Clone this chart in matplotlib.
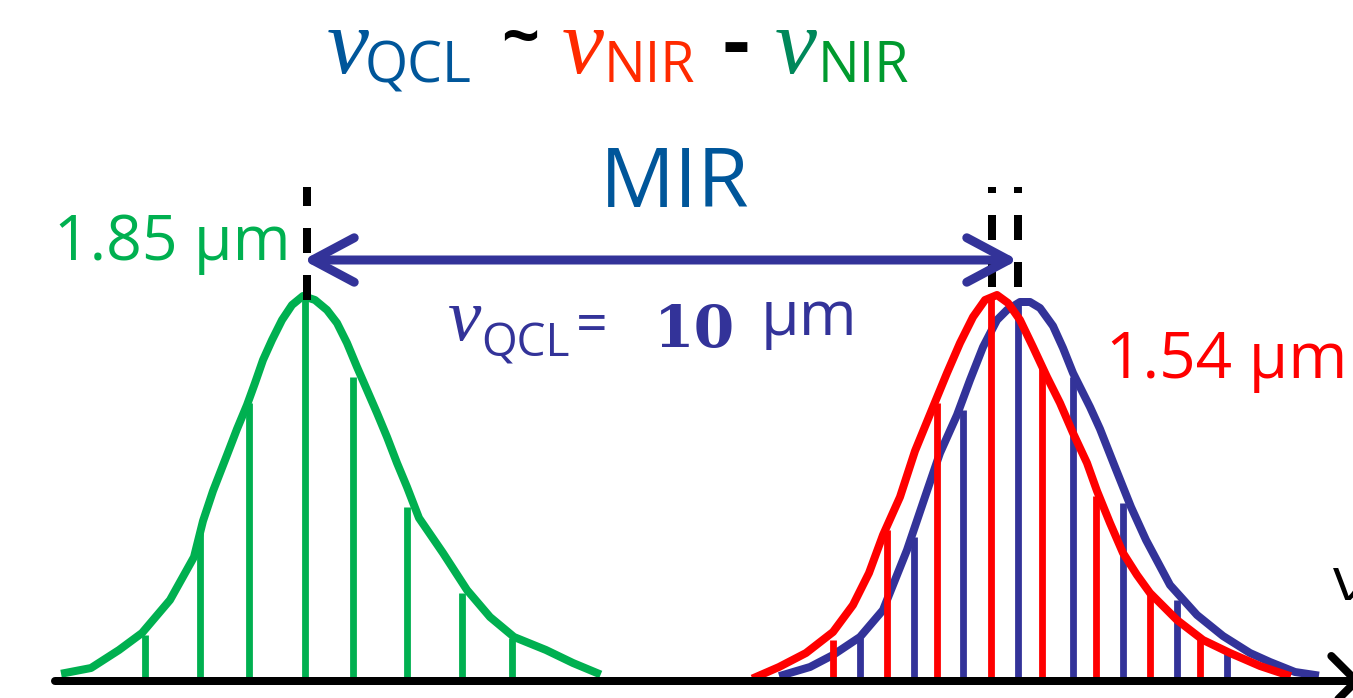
import matplotlib
matplotlib.use("Agg")
import matplotlib.pyplot as plt
from matplotlib.patches import FancyArrowPatch

# frekans ekseni (keyfi birim) ve genlik (eksenin üstündeki yükseklik)
green_comb_x = [145, 200, 249, 305, 353, 407, 462, 512]
green_comb_h = [46, 151, 278, 384, 304, 174, 88, 43]
green_env_x = [65, 91, 119, 142, 170, 194, 203, 213, 227, 237, 247, 255, 263, 272, 282,
               292, 303, 315, 327, 337, 347, 357, 367, 377, 387, 397, 407, 419, 443,
               467, 490, 514, 546, 573, 597]
green_env_h = [8, 13, 31, 48, 81, 124, 160, 190, 226, 252, 276, 298, 321, 341, 361,
               376, 385, 381, 371, 358, 338, 314, 291, 268, 244, 218, 194, 163, 128,
               91, 64, 44, 31, 18, 8]

red_comb_x = [833, 887, 937, 991, 1042, 1096, 1150, 1200]
red_comb_h = [41, 151, 278, 386, 314, 185, 88, 44]
red_env_x = [756, 779, 806, 833, 853, 869, 883, 900, 915, 933, 947, 960, 973, 985, 997,
             1008, 1020, 1033, 1047, 1060, 1073, 1087, 1097, 1110, 1123, 1137, 1150,
             1177, 1203, 1230, 1260, 1287]
red_env_h = [4, 14, 28, 49, 76, 108, 146, 184, 230, 274, 308, 338, 364, 381, 386,
             378, 361, 334, 304, 278, 248, 218, 190, 158, 128, 106, 88,
             61, 41, 28, 15, 6]

blue_comb_x = [860, 914, 963, 1018, 1073, 1123, 1177, 1227]
blue_comb_h = [43, 144, 271, 378, 304, 178, 81, 31]
blue_env_x = [783, 810, 833, 860, 883, 907, 927, 940, 957, 970, 983, 997, 1007, 1020,
              1030, 1040, 1053, 1063, 1073, 1090, 1100, 1115, 1131, 1146, 1170, 1197,
              1223, 1250, 1270, 1295, 1315]
blue_env_h = [6, 14, 26, 44, 71, 131, 190, 228, 266, 301, 334, 361, 371, 379,
              379, 373, 355, 333, 308, 274, 252, 214, 174, 141, 96, 66,
              45, 28, 19, 9, 6]

# merkez frekanslar (kesikli çizgiler) ve MIR oku
center_green = 307
center_red = 992
center_blue = 1018
dash_bottom = [381, 394, 394]
dash_top = 494
arrow_level = 421

label_green = "1.85 μm"
label_red = "1.54 μm"
label_mir = "MIR"

GREEN = "#00B050"
RED = "#FF0000"
BLUE = "#333399"
DARKBLUE = "#00569A"
SANS = "Open Sans"
SERIF = "Liberation Serif"

PX = 72 / 100  # piksel -> punkt

fig = plt.figure(figsize=(13.53, 6.98), dpi=100)
ax = fig.add_axes([0, 0, 1, 1])
ax.set_xlim(0, 1353)
ax.set_ylim(-17, 681)
ax.axis("off")

lw_line = 6.8 * PX
lw_env = 8 * PX

# yeşil tarak
ax.plot(green_env_x, green_env_h, color=GREEN, lw=lw_env, solid_joinstyle="round")
ax.vlines(green_comb_x, 0, green_comb_h, colors=GREEN, lw=lw_line)

# mavi (QCL) ve kırmızı tarak
ax.plot(blue_env_x, blue_env_h, color=BLUE, lw=lw_env, solid_joinstyle="round")
ax.vlines(blue_comb_x, 0, blue_comb_h, colors=BLUE, lw=lw_line)
ax.plot(red_env_x, red_env_h, color=RED, lw=lw_env, solid_joinstyle="round")
ax.vlines(red_comb_x, 0, red_comb_h, colors=RED, lw=lw_line)

# kesikli merkez çizgileri
lw_dash = 8 * PX
for cx, yb in zip([center_green, center_red, center_blue], dash_bottom):
    ax.plot([cx, cx], [yb, dash_top], color="black", lw=lw_dash,
            linestyle=(0, (25 * PX / lw_dash, 22 * PX / lw_dash)))

# frekans ekseni
ax.add_patch(FancyArrowPatch((55, 0), (1362, 0), arrowstyle="->,head_length=18,head_width=18",
                             color="black", lw=8 * PX, mutation_scale=1, shrinkA=0, shrinkB=0,
                             zorder=5))
ax.text(1333, 81, "ν", color="black", fontsize=44, family=SANS, va="baseline", ha="left")

# MIR oku
ax.add_patch(FancyArrowPatch((303, arrow_level), (center_blue, arrow_level),
                             arrowstyle="<->,head_length=30,head_width=16",
                             color=BLUE, lw=9 * PX, mutation_scale=1, shrinkA=0, shrinkB=0,
                             zorder=4))

# etiketler
ax.text(291, 421, label_green, color=GREEN, fontsize=45, family=SANS, ha="right", va="baseline")
ax.text(1106, 303, label_red, color=RED, fontsize=46, family=SANS, ha="left", va="baseline")
ax.text(675, 474, label_mir, color=DARKBLUE, fontsize=60, family=SANS, ha="center", va="baseline")

# nu_QCL = 10 um
ax.text(448, 341, "ν", color=BLUE, fontsize=54, family=SERIF, style="italic", va="baseline")
ax.text(481, 324, "QCL", color=BLUE, fontsize=33, family=SANS, va="baseline")
ax.text(592, 354, "=", color=BLUE, fontsize=40, family=SANS, ha="center", va="center")
ax.text(654, 334, "10", color=BLUE, fontsize=42, family="DejaVu Serif", weight="bold",
        va="baseline")
ax.text(761, 346, "μm", color=BLUE, fontsize=45, family=SANS, va="baseline")

# başlık: nu_QCL ~ nu_NIR - nu_NIR
ax.text(327, 608, "ν", color=DARKBLUE, fontsize=68, family=SERIF, style="italic", va="baseline")
ax.text(365, 599, "QCL", color=DARKBLUE, fontsize=40, family=SANS, va="baseline")
ax.text(520, 640, "~", color="black", fontsize=48, family=SANS, weight="bold", ha="center", va="center")
ax.text(562, 608, "ν", color="#FF2A00", fontsize=68, family=SERIF, style="italic", va="baseline")
ax.text(604, 599, "NIR", color="#FF2A00", fontsize=40, family=SANS, va="baseline")
ax.text(736, 634, "-", color="black", fontsize=60, family=SANS, weight="bold", ha="center", va="center")
ax.text(775, 608, "ν", color="#00885A", fontsize=68, family=SERIF, style="italic", va="baseline")
ax.text(818, 599, "NIR", color="#009A2E", fontsize=40, family=SANS, va="baseline")

fig.savefig("out.png", dpi=100)
